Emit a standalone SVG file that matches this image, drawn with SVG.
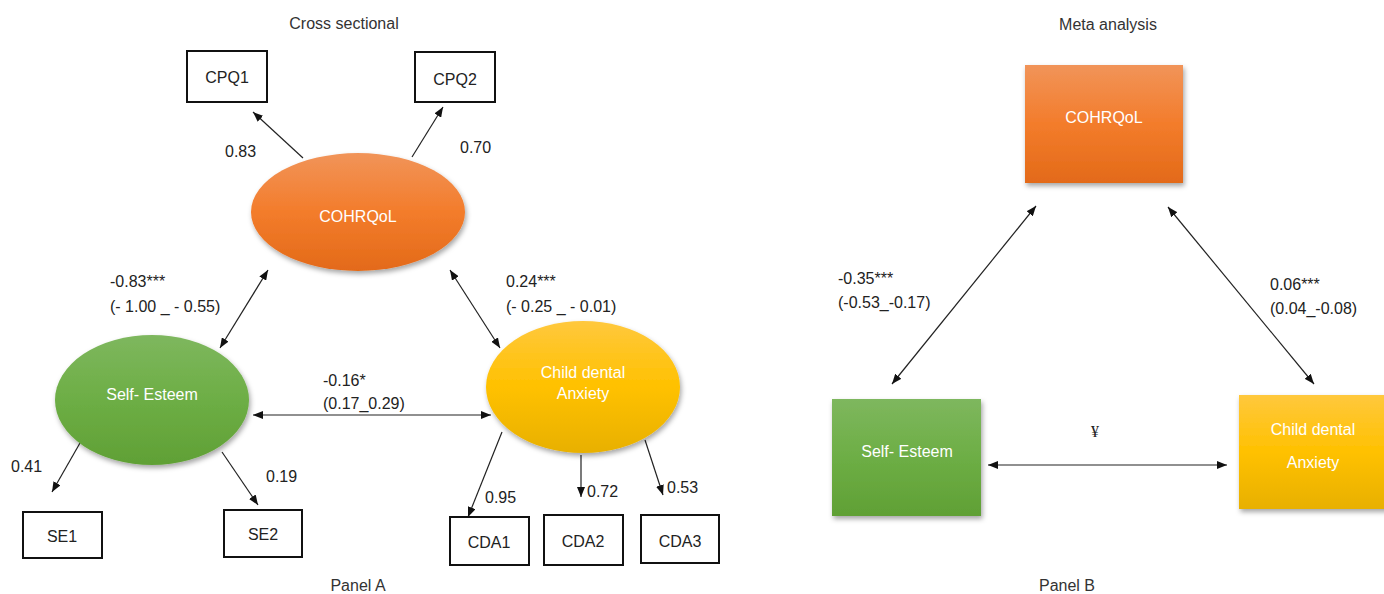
<svg xmlns="http://www.w3.org/2000/svg" width="1384" height="594" viewBox="0 0 1384 594">
<style>
text{font-family:"Liberation Sans",Arial,sans-serif;font-size:16px;fill:#222}
.t{fill:#333}
.w{fill:#fff;text-anchor:middle}
.m{text-anchor:middle}
.box{fill:#fff;stroke:#111;stroke-width:2}
.c{stroke:#222;stroke-width:1.2;fill:none}
.e{marker-end:url(#ah)}
.b{marker-start:url(#ah);marker-end:url(#ah)}
</style>
<defs>
<marker id="ah" viewBox="0 0 10 8" refX="10" refY="4" markerWidth="10" markerHeight="8" markerUnits="userSpaceOnUse" orient="auto-start-reverse">
<path d="M0,0 L10,4 L0,8 z" fill="#111"/>
</marker>
<linearGradient id="gO" x1="0" y1="0" x2="0" y2="1"><stop offset="0" stop-color="#F19459"/><stop offset="0.5" stop-color="#F37C2B"/><stop offset="1" stop-color="#E36A19"/></linearGradient>
<linearGradient id="gG" x1="0" y1="0" x2="0" y2="1"><stop offset="0" stop-color="#7EB75E"/><stop offset="0.5" stop-color="#6DAE45"/><stop offset="1" stop-color="#60A035"/></linearGradient>
<linearGradient id="gY" x1="0" y1="0" x2="0" y2="1"><stop offset="0" stop-color="#FFC83D"/><stop offset="0.5" stop-color="#FFC100"/><stop offset="1" stop-color="#E8B000"/></linearGradient>
<filter id="sh" x="-10%" y="-10%" width="125%" height="130%"><feDropShadow dx="1.5" dy="3" stdDeviation="2.5" flood-color="#000" flood-opacity="0.35"/></filter>
</defs>
<rect width="1384" height="594" fill="#fff"/>
<text class="t m" x="344" y="29">Cross sectional</text>
<text class="t m" x="1108" y="30">Meta analysis</text>
<text class="t m" x="358" y="591">Panel A</text>
<text class="t m" x="1067" y="591">Panel B</text>

<g id="connectors">
<line class="c e" x1="303" y1="158" x2="253" y2="112"/>
<line class="c e" x1="412" y1="157" x2="443" y2="107"/>
<line class="c b" x1="268" y1="270" x2="220" y2="348"/>
<line class="c b" x1="450" y1="270" x2="500" y2="348"/>
<line class="c b" x1="253" y1="415" x2="491" y2="415"/>
<line class="c e" x1="80" y1="443" x2="52" y2="492"/>
<line class="c e" x1="222" y1="452" x2="258" y2="505"/>
<line class="c e" x1="502" y1="432" x2="468" y2="517"/>
<line class="c e" x1="581" y1="455" x2="581" y2="497"/>
<line class="c e" x1="645" y1="440" x2="663" y2="495"/>
<line class="c b" x1="1036" y1="206" x2="892" y2="384"/>
<line class="c b" x1="1168" y1="207" x2="1314" y2="384"/>
<line class="c b" x1="988" y1="465" x2="1227" y2="465"/>
<text x="225" y="157">0.83</text>
<text x="460" y="153">0.70</text>
<text x="110" y="287">-0.83***</text>
<text x="110" y="312">(- 1.00 _ - 0.55)</text>
<text x="506" y="287">0.24***</text>
<text x="506" y="312">(- 0.25 _ - 0.01)</text>
<text x="323" y="386">-0.16*</text>
<text x="323" y="409">(0.17_0.29)</text>
<text x="11" y="472">0.41</text>
<text x="266" y="482">0.19</text>
<text x="485" y="503">0.95</text>
<text x="587" y="497">0.72</text>
<text x="667" y="493">0.53</text>
<text x="838" y="284">-0.35***</text>
<text x="838" y="308">(-0.53_-0.17)</text>
<text x="1270" y="290">0.06***</text>
<text x="1270" y="314">(0.04_-0.08)</text>
<text class="m" x="1095" y="437" style="font-family:'Liberation Serif',serif">¥</text>
</g>

<g id="cpq1"><rect class="box" x="187" y="51" width="80" height="51"/><text class="m" x="227" y="83">CPQ1</text></g>
<g id="cpq2"><rect class="box" x="415" y="52" width="80" height="50"/><text class="m" x="455" y="85">CPQ2</text></g>
<g id="se1"><rect class="box" x="23" y="512" width="79" height="46"/><text class="m" x="62" y="542">SE1</text></g>
<g id="se2"><rect class="box" x="224" y="510" width="78" height="47"/><text class="m" x="263" y="540">SE2</text></g>
<g id="cda1"><rect class="box" x="450" y="517" width="79" height="48"/><text class="m" x="489" y="548">CDA1</text></g>
<g id="cda2"><rect class="box" x="544" y="515" width="79" height="50"/><text class="m" x="583" y="547">CDA2</text></g>
<g id="cda3"><rect class="box" x="641" y="515" width="78" height="48"/><text class="m" x="680" y="547">CDA3</text></g>

<g id="cohrqol-a"><ellipse cx="358" cy="212" rx="107" ry="59" fill="url(#gO)" filter="url(#sh)"/><text class="w" x="358" y="222">COHRQoL</text></g>
<g id="selfesteem-a"><ellipse cx="152" cy="400" rx="97" ry="65" fill="url(#gG)" filter="url(#sh)"/><text class="w" x="152" y="400">Self- Esteem</text></g>
<g id="anxiety-a"><ellipse cx="583" cy="387" rx="97" ry="66" fill="url(#gY)" filter="url(#sh)"/><text class="w" x="583" y="378">Child dental</text><text class="w" x="583" y="399">Anxiety</text></g>

<g id="cohrqol-b"><rect x="1025" y="65" width="158" height="118" fill="url(#gO)" filter="url(#sh)"/><text class="w" x="1104" y="123">COHRQoL</text></g>
<g id="selfesteem-b"><rect x="832" y="399" width="149" height="117" fill="url(#gG)" filter="url(#sh)"/><text class="w" x="907" y="457">Self- Esteem</text></g>
<g id="anxiety-b"><rect x="1239" y="395" width="155" height="114" fill="url(#gY)" filter="url(#sh)"/><text class="w" x="1313" y="435">Child dental</text><text class="w" x="1313" y="468">Anxiety</text></g>
</svg>
